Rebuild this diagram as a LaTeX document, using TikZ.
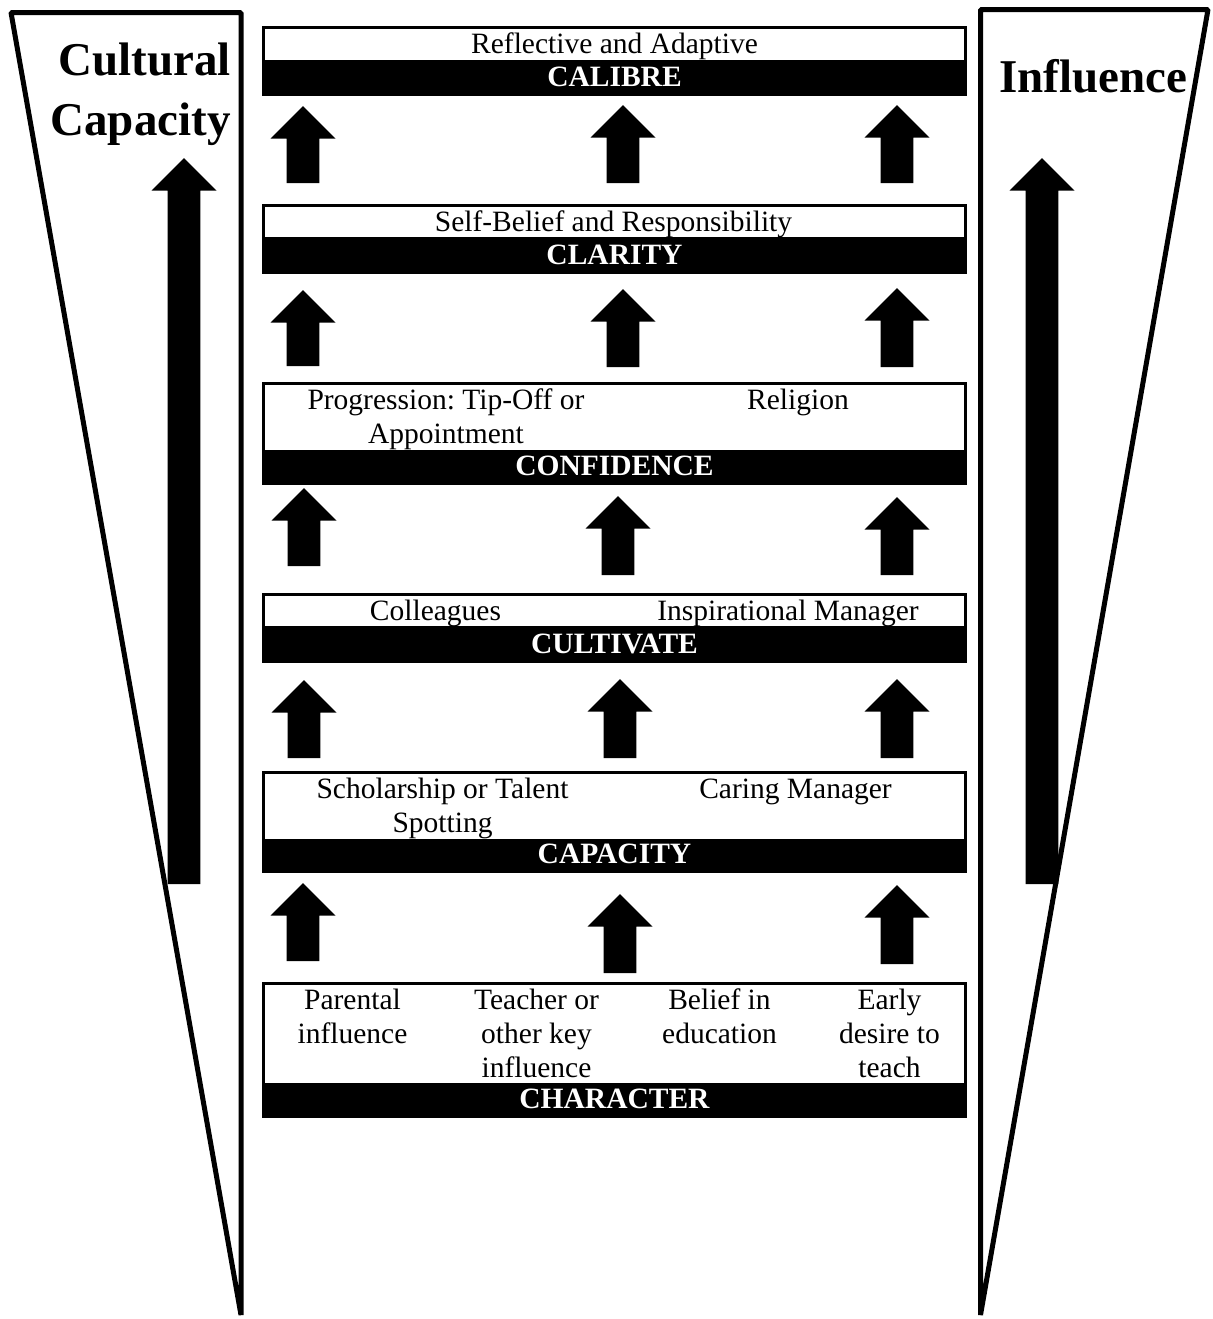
\documentclass[tikz,border=0pt]{standalone}
\usepackage{fontspec}
\setmainfont{Liberation Serif}
\frenchspacing

\tikzset{
  box/.style={draw, line width=1.25pt, fill=white},
  bar/.style={draw, line width=1.25pt, fill=black},
  item/.style={anchor=base, align=center, inner sep=0pt, font=\fontsize{14.75}{17}\selectfont},
  barlabel/.style={anchor=base, inner sep=0pt, text=white, font=\fontsize{14.75}{17}\selectfont\bfseries},
  side/.style={inner sep=0pt, font=\fontsize{23.5}{30}\selectfont\bfseries},
  funnel/.style={draw, line width=2.5pt, line join=bevel},
}

% block arrow pointing up: x of the axis, y of the tip, y of the foot
\newcommand{\blockup}[3]{%
  \fill (#1,#2) -- ++(32.5,32.5) -- ++(-16.2,0) |- (#1-16.3,#3) |- (#1-32.5,#2+32.5) -- cycle;}

\begin{document}
\begin{tikzpicture}[x=0.5pt, y=-0.5pt]
    \useasboundingbox (0,0) rectangle (1212,1319);

    % the two funnels
    \draw[funnel] (11,12.5) -- (241,12.5) -- (241,1315) -- cycle;
    \draw[funnel] (980.5,9.5) -- (1208,9.5) -- (980.5,1315) -- cycle;

    % multi-line nodes sit on the baseline of their last line
    \node[side, align=right, anchor=base east] (cultural) at (231,135) {Cultural\\Capacity};
    \node[side, anchor=base] (influence) at (1093,92) {Influence};

    \blockup{184}{158}{884}
    \blockup{1042}{158}{884}

    % CALIBRE
    \draw[box] (263.3,27.3) rectangle (965.7,61);
    \draw[bar] (263.3,61) rectangle (965.7,94.7);
    \node[item] (reflective) at (614.5,53) {Reflective and Adaptive};
    \node[barlabel] (calibre) at (614.5,86) {CALIBRE};

    % CLARITY
    \draw[box] (263.3,205.3) rectangle (965.7,238);
    \draw[bar] (263.3,238) rectangle (965.7,272.7);
    \node[item] (selfbelief) at (613.5,231) {Self-Belief and Responsibility};
    \node[barlabel] (clarity) at (614.5,264) {CLARITY};

    % CONFIDENCE
    \draw[box] (263.3,383.3) rectangle (965.7,451);
    \draw[bar] (263.3,451) rectangle (965.7,483.7);
    \node[item] (progression) at (446,443) {Progression: Tip-Off or\\Appointment};
    \node[item] (religion) at (798,409) {Religion};
    \node[barlabel] (confidence) at (614.5,475) {CONFIDENCE};

    % CULTIVATE
    \draw[box] (263.3,594.3) rectangle (965.7,627);
    \draw[bar] (263.3,627) rectangle (965.7,661.7);
    \node[item] (colleagues) at (435.5,620) {Colleagues};
    \node[item] (inspirational) at (788,620) {Inspirational Manager};
    \node[barlabel] (cultivate) at (614.5,653) {CULTIVATE};

    % CAPACITY
    \draw[box] (263.3,772.3) rectangle (965.7,840);
    \draw[bar] (263.3,840) rectangle (965.7,871.7);
    \node[item] (scholarship) at (442.5,832) {Scholarship or Talent\\Spotting};
    \node[item] (caring) at (795.5,798) {Caring Manager};
    \node[barlabel] (capacity) at (614.5,863) {CAPACITY};

    % CHARACTER
    \draw[box] (263.3,983.3) rectangle (965.7,1084);
    \draw[bar] (263.3,1084) rectangle (965.7,1116.7);
    \node[item] (parental) at (352.5,1043) {Parental\\influence};
    \node[item] (teacher) at (536.5,1077) {Teacher or\\other key\\influence};
    \node[item] (belief) at (719.5,1043) {Belief in\\education};
    \node[item] (early) at (889.5,1077) {Early\\desire to\\teach};
    \node[barlabel] (character) at (614.5,1108) {CHARACTER};

    % arrows between the levels
    \foreach \x/\t/\b in {303/106/183, 623/105/183, 897/105/183,
                          303/290/366, 623/289/367, 897/288/367,
                          304/488/566, 618/496/575, 897/497/575,
                          304/680/758, 620/679/758, 897/679/758,
                          303/883/961, 620/894/973, 897/885/964}
        {\blockup{\x}{\t}{\b}}

\end{tikzpicture}
\end{document}
